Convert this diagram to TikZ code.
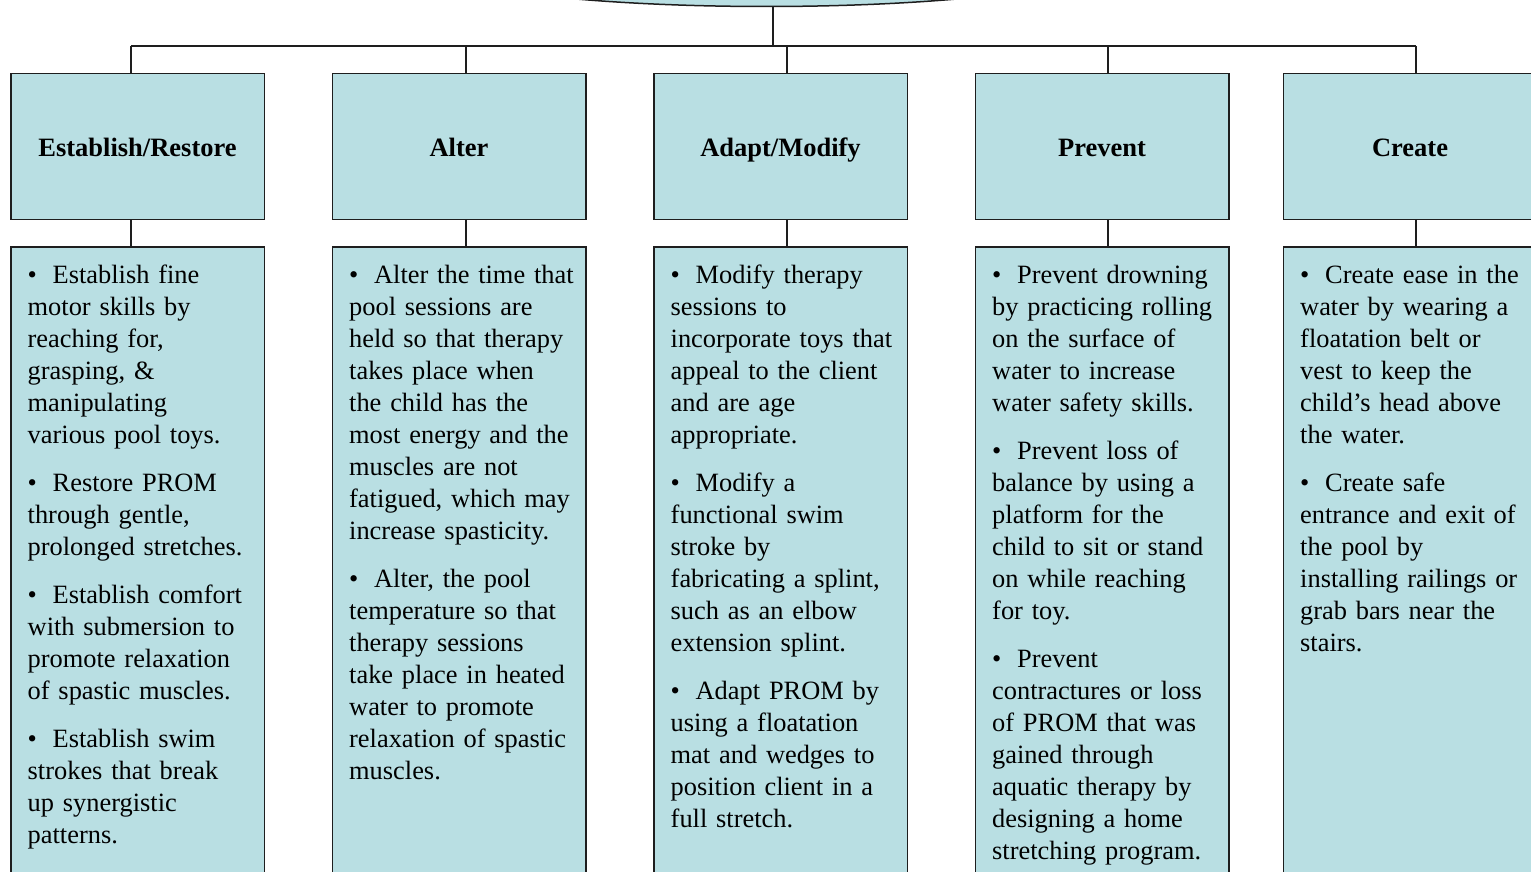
\documentclass[tikz,border=0pt]{standalone}
\usepackage{fontspec}
\setmainfont{Liberation Serif}
\usepackage{tikz}
\usetikzlibrary{shapes.geometric,positioning}
\usepackage{xcolor}
\definecolor{hpool}{HTML}{B9DFE3}
\definecolor{hline}{HTML}{1E1E1E}

\newcommand{\itm}{\makebox[25pt][l]{\textbullet}}

\begin{document}
\begin{tikzpicture}[x=1pt, y=-1pt,
      conn/.style = {line width=1.5pt, draw=hline},
      headbox/.style = {draw=hline, line width=1.5pt, fill=hpool, minimum width=253.5pt, minimum height=145.5pt,
            inner sep=0pt, text height=23pt, text depth=2pt, font=\fontsize{26.5}{32}\selectfont\bfseries},
      bodybox/.style = {draw=hline, line width=1.5pt, fill=hpool, minimum width=253.5pt, minimum height=700pt,
            inner sep=0pt},
      bodytext/.style = {anchor=north west, inner sep=0pt, text width=250pt, align=left,
            font=\fontsize{26.4}{32}\selectfont},
      node distance = 66.5pt]

                  % Frame of the page
                  \useasboundingbox (0,0) rectangle (1531,872);
                  \clip (0,0) rectangle (1531,872);

                  % Root ellipse (cut off at the top)
                  \node[ellipse, draw=hline, line width=1.5pt, fill=hpool, minimum width=722pt, minimum height=100pt] (root) at (766.5,-43.5) {};

                  % Header boxes
                  \node[headbox] (h1) at (137.5,146.5) {Establish/Restore};
                  \node[headbox, right=of h1] (h2) {Alter};
                  \node[headbox, right=of h2] (h3) {Adapt/Modify};
                  \node[headbox, right=of h3] (h4) {Prevent};
                  \node[headbox, right=53pt of h4] (h5) {Create};

                  % Body boxes
                  \foreach \i in {1,...,5} {
                        \node[bodybox, below=26pt of h\i] (b\i) {};
                  }

                  % Connectors
                  \coordinate (c0) at (773,46);
                  \draw[conn] (c0) -- (c0 |- root.south);
                  \foreach \i/\x in {1/131, 2/466, 3/787, 4/1108, 5/1416} {
                        \coordinate (c\i) at (\x,46);
                        \draw[conn] (c\i) -- (c\i |- h\i.north);
                        \draw[conn] (c\i |- h\i.south) -- (c\i |- b\i.north);
                  }
                  \draw[conn] (c1) -- (c5);

                  % Texts of the body boxes
                  \node[bodytext] (t1) at ([xshift=17.5pt, yshift=-18.5pt]b1.north west) {
                        \itm Establish fine\\ motor skills by\\ reaching for,\\ grasping, \&\\ manipulating\\ various pool toys.\\[16pt]
                        \itm Restore PROM\\ through gentle,\\ prolonged stretches.\\[16pt]
                        \itm Establish comfort\\ with submersion to\\ promote relaxation\\ of spastic muscles.\\[16pt]
                        \itm Establish swim\\ strokes that break\\ up synergistic\\ patterns.};
                  \node[bodytext] (t2) at ([xshift=17.5pt, yshift=-18.5pt]b2.north west) {
                        \itm Alter the time that\\ pool sessions are\\ held so that therapy\\ takes place when\\ the child has the\\ most energy and the\\ muscles are not\\ fatigued, which may\\ increase spasticity.\\[16pt]
                        \itm Alter, the pool\\ temperature so that\\ therapy sessions\\ take place in heated\\ water to promote\\ relaxation of spastic\\ muscles.};
                  \node[bodytext] (t3) at ([xshift=17.5pt, yshift=-18.5pt]b3.north west) {
                        \itm Modify therapy\\ sessions to\\ incorporate toys that\\ appeal to the client\\ and are age\\ appropriate.\\[16pt]
                        \itm Modify a\\ functional swim\\ stroke by\\ fabricating a splint,\\ such as an elbow\\ extension splint.\\[16pt]
                        \itm Adapt PROM by\\ using a floatation\\ mat and wedges to\\ position client in a\\ full stretch.};
                  \node[bodytext] (t4) at ([xshift=17.5pt, yshift=-18.5pt]b4.north west) {
                        \itm Prevent drowning\\ by practicing rolling\\ on the surface of\\ water to increase\\ water safety skills.\\[16pt]
                        \itm Prevent loss of\\ balance by using a\\ platform for the\\ child to sit or stand\\ on while reaching\\ for toy.\\[16pt]
                        \itm Prevent\\ contractures or loss\\ of PROM that was\\ gained through\\ aquatic therapy by\\ designing a home\\ stretching program.};
                  \node[bodytext] (t5) at ([xshift=17.5pt, yshift=-18.5pt]b5.north west) {
                        \itm Create ease in the\\ water by wearing a\\ floatation belt or\\ vest to keep the\\ child’s head above\\ the water.\\[16pt]
                        \itm Create safe\\ entrance and exit of\\ the pool by\\ installing railings or\\ grab bars near the\\ stairs.};

            \end{tikzpicture}
\end{document}
